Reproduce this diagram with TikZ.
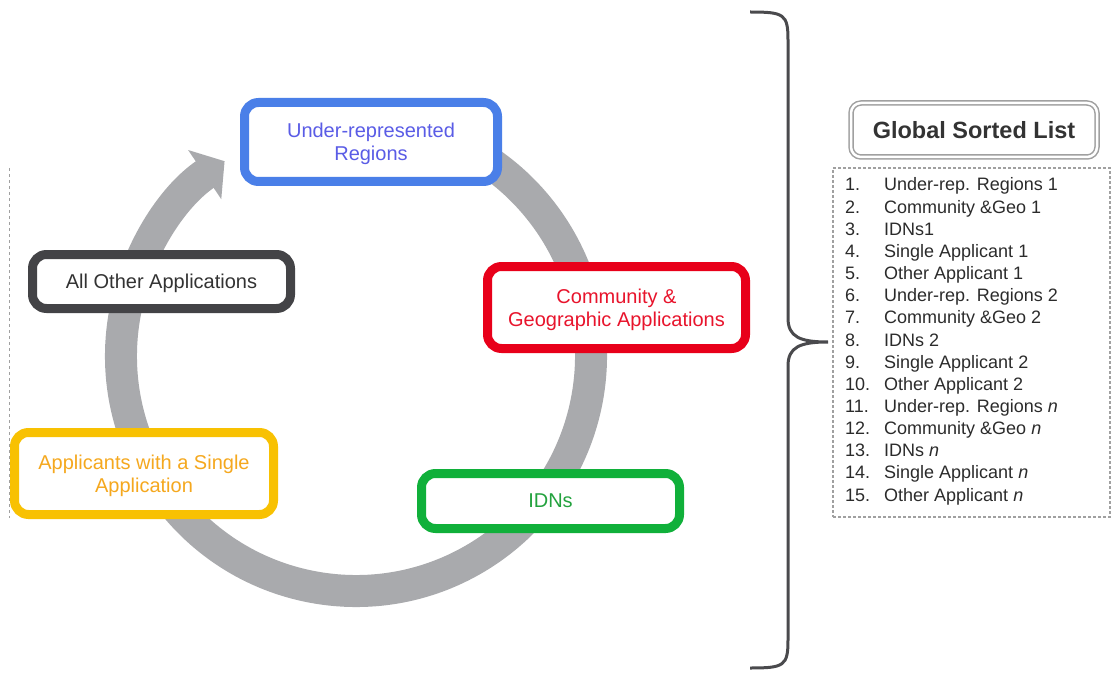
\documentclass[tikz,border=0pt]{standalone}
\usepackage{fontspec}
\setmainfont{Liberation Sans}
\usetikzlibrary{arrows.meta}
\definecolor{ringGray}{HTML}{A9AAAD}
\definecolor{braceGray}{HTML}{4A4A4D}
\definecolor{underBlue}{HTML}{4A7FE8}
\definecolor{underText}{HTML}{5A5CE6}
\definecolor{communityRed}{HTML}{E8001A}
\definecolor{communityText}{HTML}{E8142C}
\definecolor{idnGreen}{HTML}{10B03A}
\definecolor{idnText}{HTML}{23A23E}
\definecolor{singleYellow}{HTML}{F8C102}
\definecolor{singleText}{HTML}{F5A81E}
\definecolor{otherDark}{HTML}{434346}
\definecolor{otherText}{HTML}{333333}
\definecolor{listText}{HTML}{2B2B2B}
\definecolor{titleGray}{HTML}{A0A0A0}

\tikzset{
  phaseBox/.style={draw, line width=9pt, rounded corners=14pt, fill=white,
    align=center, inner sep=4pt, text depth=0pt, font=\fontsize{20}{23}\selectfont},
  listEntry/.style={anchor=base west, inner sep=0pt,
    font=\fontsize{18}{20}\selectfont, text=listText},
}

\begin{document}
\begin{tikzpicture}[x=1pt,y=1pt]
  \useasboundingbox (0,0) rectangle (1112,-674);

  % cycle ring
  \draw[ringGray, line width=32pt, -{Triangle[length=24pt,width=58pt]}]
    (356,-356) ++(80:235) arc[start angle=80, end angle=-236, radius=235];

  \draw[titleGray, line width=0.6pt, dashed] (9,-168) -- (9,-518);

  % phase boxes
  \node[phaseBox, draw=underBlue, text=underText, minimum width=253pt, minimum height=79pt]
    (under) at (371,-142) {Under-represented\\Regions};
  \node[phaseBox, draw=communityRed, text=communityText, minimum width=258pt, minimum height=82pt]
    (community) at (616.5,-307.5) {Community \&\\Geographic Applications};
  \node[phaseBox, draw=idnGreen, text=idnText, minimum width=258pt, minimum height=55pt]
    (idns) at (550.5,-501) {IDNs};
  \node[phaseBox, draw=singleYellow, text=singleText, minimum width=259pt, minimum height=82pt]
    (single) at (144,-473.5) {Applicants with a Single\\Application};
  \node[phaseBox, draw=otherDark, text=otherText, minimum width=258pt, minimum height=54pt]
    (other) at (161.5,-281.5) {All Other Applications};

  % brace
  \draw[braceGray, line width=3pt]
    (750,-12) .. controls (784,-12) and (788,-14) .. (788,-40) -- (788,-318)
    .. controls (788,-337) and (800,-342) .. (828,-342)
    .. controls (800,-342) and (788,-347) .. (788,-366) -- (788,-640)
    .. controls (788,-666) and (784,-668) .. (750,-668);

  % sorted list
  \node[draw=titleGray, double=white, double distance=2.5pt, line width=1.5pt,
        rounded corners=10pt, minimum width=246pt, minimum height=54pt,
        font=\fontsize{23.5}{26}\selectfont\bfseries, text=otherText]
    (listTitle) at (974,-130) {Global Sorted List};
  \node[draw=titleGray, line width=1.2pt, dash pattern=on 3pt off 2pt,
        minimum width=277pt, minimum height=349pt, inner sep=0pt]
    (sortedList) at (971.5,-342.5) {};

  \foreach \num/\entry in {1/{Under-rep. Regions 1}, 2/{Community \&Geo 1}, 3/{IDNs1},
      4/{Single Applicant 1}, 5/{Other Applicant 1}, 6/{Under-rep. Regions 2},
      7/{Community \&Geo 2}, 8/{IDNs 2}, 9/{Single Applicant 2}, 10/{Other Applicant 2},
      11/{Under-rep. Regions \textit{n}}, 12/{Community \&Geo \textit{n}}, 13/{IDNs \textit{n}},
      14/{Single Applicant \textit{n}}, 15/{Other Applicant \textit{n}}} {
    \node[listEntry] (num\num) at (845,{-191-22.15*(\num-1)}) {\num.};
    \node[listEntry] (entry\num) at (884,{-191-22.15*(\num-1)}) {\entry};
  }
\end{tikzpicture}
\end{document}
